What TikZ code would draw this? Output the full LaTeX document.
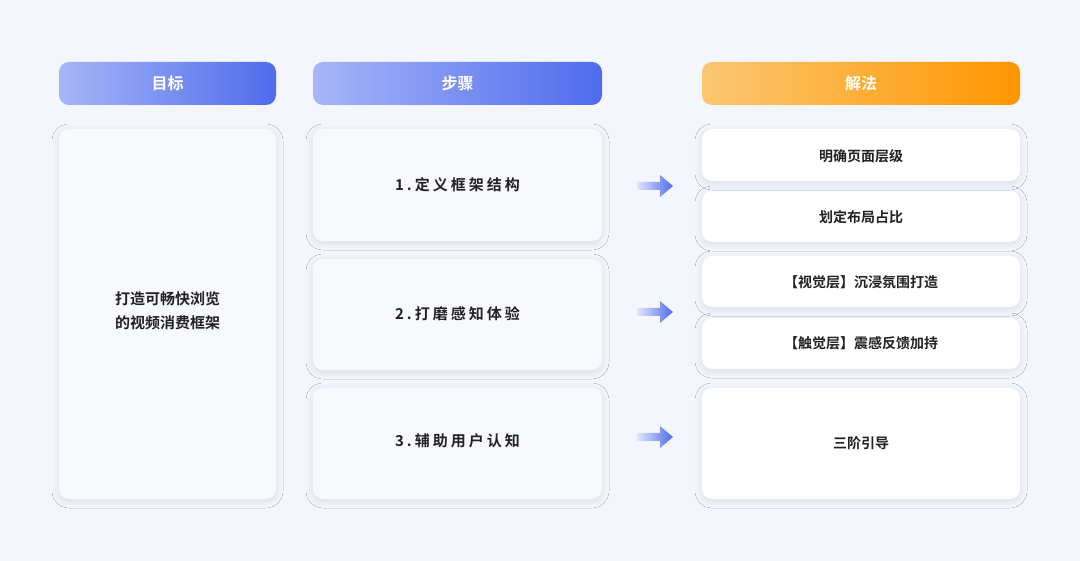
\documentclass[tikz,border=0pt]{standalone}
\usepackage{fontspec}
\setmainfont{Noto Sans CJK SC}
\newfontfamily\cjkb[LetterSpace=20]{Noto Sans CJK SC Bold}
\newfontfamily\cjkm{Noto Sans CJK SC Bold}
\usetikzlibrary{shadows.blur}
\definecolor{bg}{HTML}{F4F6FD}
\definecolor{bA}{HTML}{A6B6F8}
\definecolor{bB}{HTML}{4F6BEB}
\definecolor{oA}{HTML}{FBC772}
\definecolor{oB}{HTML}{FF9600}
\definecolor{stepfill}{HTML}{F8F9FD}
\definecolor{tx}{HTML}{222222}
\tikzset{
 hdr/.style={text=white,font=\cjkm\fontsize{16}{18}\selectfont},
 card/.style={rounded corners=10pt,fill=stepfill,blur shadow={shadow blur steps=10,shadow blur radius=7pt,shadow xshift=0pt,shadow yshift=-2pt,shadow opacity=10}},
 wcard/.style={rounded corners=10pt,fill=white,blur shadow={shadow blur steps=10,shadow blur radius=7pt,shadow xshift=0pt,shadow yshift=-2pt,shadow opacity=10}},
 stxt/.style={text=tx,font=\cjkb\fontsize{15}{18}\selectfont},
 rtxt/.style={text=tx,font=\cjkm\fontsize{14}{16}\selectfont},
}
\begin{document}
\begin{tikzpicture}[x=1pt,y=-1pt]
\fill[bg] (0,0) rectangle (1080,561);
\useasboundingbox (0,0) rectangle (1080,561);
% headers
\shade[rounded corners=10pt,left color=bA,right color=bB] (59,62) rectangle (276,105);
\node[hdr] (h1) at (167.5,83.5) {目标};
\shade[rounded corners=10pt,left color=bA,right color=bB] (313,62) rectangle (602,105);
\node[hdr] (h2) at (457.5,83.5) {步骤};
\shade[rounded corners=10pt,left color=oA,right color=oB] (702,62) rectangle (1020,105);
\node[hdr] (h3) at (861,83.5) {解法};
% left
\path[card] (59,129) rectangle (276,499);
\node[align=center,text=tx,font=\cjkm\fontsize{15}{24}\selectfont] (goal) at (167.5,311) {打造可畅快浏览\\的视频消费框架};
% steps
\path[card] (313,129) rectangle (602,241);
\path[card] (313,259) rectangle (602,370);
\path[card] (313,388) rectangle (602,499);
\node[stxt] (s1) at (457.5,185) {1.定义框架结构};
\node[stxt] (s2) at (457.5,314) {2.打磨感知体验};
\node[stxt] (s3) at (457.5,441) {3.辅助用户认知};
% right
\path[wcard] (702,129) rectangle (1020,181);
\path[wcard] (702,191) rectangle (1020,242);
\path[wcard] (702,256) rectangle (1020,307);
\path[wcard] (702,318) rectangle (1020,369);
\path[wcard] (702,388) rectangle (1020,499);
\node[rtxt] (r1) at (861,156) {明确页面层级};
\node[rtxt] (r2) at (861,217) {划定布局占比};
\node[rtxt] (r3) at (861,282) {【视觉层】沉浸氛围打造};
\node[rtxt] (r4) at (861,343) {【触觉层】震感反馈加持};
\node[rtxt] (r5) at (861,443) {三阶引导};
% arrows
\foreach \yy in {186,312,437}{
 \shade[left color=bA!25!bg,right color=bB] (637,\yy-4) -- (660,\yy-4) -- (660,\yy-11) -- (673,\yy) -- (660,\yy+11) -- (660,\yy+4) -- (637,\yy+4) -- cycle;
}
\end{tikzpicture}
\end{document}
